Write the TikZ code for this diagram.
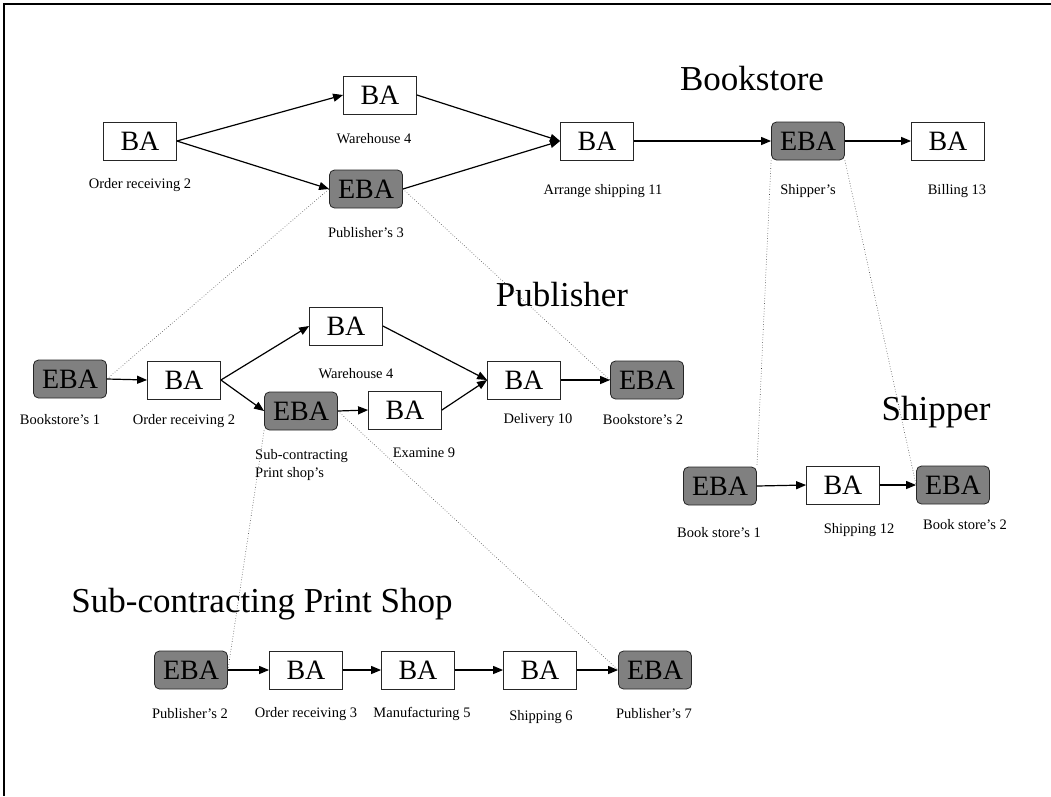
\documentclass[tikz,border=0pt]{standalone}
\usepackage{fontspec}
\setmainfont{Liberation Serif}
\usetikzlibrary{arrows.meta}
\definecolor{ebagray}{RGB}{128,128,128}
\tikzset{
  ba/.style={draw=black!85, line width=0.8pt, fill=white, minimum width=73pt, minimum height=38pt, inner sep=0pt, font=\fontsize{28}{30}\selectfont},
  eba/.style={ba, fill=ebagray, rounded corners=5pt},
  lab/.style={font=\fontsize{14.5}{18}\selectfont, inner sep=0pt},
  ttl/.style={font=\fontsize{35}{40}\selectfont, inner sep=0pt},
  flow/.style={line width=1.2pt, -{Triangle[length=10pt,width=8pt]}},
  link/.style={dotted, line width=0.6pt, black!75},
  frame/.style={line width=2pt}
}
\begin{document}
\begin{tikzpicture}[x=1pt,y=-1pt]
\useasboundingbox (0,0) rectangle (1051,796);
\coordinate (fr1) at (1051,4);
\coordinate (fr2) at (4,4);
\coordinate (fr3) at (4,796);
\draw[frame] (fr1) -- (fr2) -- (fr3);

% ---------- Bookstore ----------
\node[ttl, anchor=base] (tbook) at (752,90) {Bookstore};
\node[ba]  (b1)  at (140,141) {BA};
\node[ba]  (b2)  at (380,95)  {BA};
\node[eba] (b3)  at (366,189) {EBA};
\node[ba]  (b4)  at (597,141) {BA};
\node[eba] (b5)  at (808,141) {EBA};
\node[ba]  (b6)  at (948,141) {BA};
\node[lab] (lb1) at (140,185) {Order receiving 2};
\node[lab] (lb2) at (374,139) {Warehouse 4};
\node[lab] (lb3) at (366,233) {Publisher’s 3};
\node[lab] (lb4) at (603,191) {Arrange shipping 11};
\node[lab] (lb5) at (808,191) {Shipper’s};
\node[lab] (lb6) at (957,191) {Billing 13};
\draw[flow] (b1.east) -- (b2.west);
\draw[flow] (b1.east) -- (b3.west);
\draw[flow] (b2.east) -- (b4.west);
\draw[flow] (b3.east) -- (b4.west);
\draw[flow] (b4.east) -- (b5.west);
\draw[flow] (b5.east) -- (b6.west);

% ---------- Publisher ----------
\node[ttl, anchor=base] (tpub) at (562,306) {Publisher};
\node[eba] (p1) at (70,379)  {EBA};
\node[ba]  (p2) at (184,380) {BA};
\node[ba]  (p3) at (346,326) {BA};
\node[eba] (p4) at (301,411) {EBA};
\node[ba]  (p5) at (405,410) {BA};
\node[ba]  (p6) at (524,380) {BA};
\node[eba] (p7) at (647,380) {EBA};
\node[lab] (lp1) at (60,420)  {Bookstore’s 1};
\node[lab] (lp2) at (184,421) {Order receiving 2};
\node[lab] (lp3) at (356,374) {Warehouse 4};
\node[lab, anchor=north west, align=left] (lp4) at (255,449) {Sub-contracting\\Print shop’s};
\node[lab] (lp5) at (424,453) {Examine 9};
\node[lab] (lp6) at (538,420) {Delivery 10};
\node[lab] (lp7) at (643,420) {Bookstore’s 2};
\draw[flow] (p1.east) -- (p2.west);
\draw[flow] (p2.east) -- (p3.west);
\draw[flow] (p2.east) -- (p4.west);
\draw[flow] (p3.east) -- (p6.west);
\draw[flow] (p4.east) -- (p5.west);
\draw[flow] (p5.east) -- (p6.west);
\draw[flow] (p6.east) -- (p7.west);

% ---------- Shipper ----------
\node[ttl, anchor=base] (tship) at (936,420) {Shipper};
\node[eba] (s1) at (720,486) {EBA};
\node[ba]  (s2) at (843,485) {BA};
\node[eba] (s3) at (953,485) {EBA};
\node[lab] (ls1) at (719,533) {Book store’s 1};
\node[lab] (ls2) at (859,530) {Shipping 12};
\node[lab] (ls3) at (965,525) {Book store’s 2};
\draw[flow] (s1.east) -- (s2.west);
\draw[flow] (s2.east) -- (s3.west);

% ---------- Sub-contracting Print Shop ----------
\node[ttl, anchor=base] (tprint) at (262,612) {Sub-contracting Print Shop};
\node[eba] (c1) at (191,670) {EBA};
\node[ba]  (c2) at (306,670) {BA};
\node[ba]  (c3) at (418,670) {BA};
\node[ba]  (c4) at (540,670) {BA};
\node[eba] (c5) at (655,670) {EBA};
\node[lab] (lc1) at (190,714) {Publisher’s 2};
\node[lab] (lc2) at (306,714) {Order receiving 3};
\node[lab] (lc3) at (422,714) {Manufacturing 5};
\node[lab] (lc4) at (541,717) {Shipping 6};
\node[lab] (lc5) at (654,714) {Publisher’s 7};
\draw[flow] (c1.east) -- (c2.west);
\draw[flow] (c2.east) -- (c3.west);
\draw[flow] (c3.east) -- (c4.west);
\draw[flow] (c4.east) -- (c5.west);

% ---------- dotted correspondences ----------
\draw[link] (p1.east) -- (b3.west);
\draw[link] (b3.east) -- (p7.west);
\draw[link] (b5.south west) -- (s1.north east);
\draw[link] (b5.south east) -- (s3.west);
\draw[link] (p4.south west) -- (c1.east);
\draw[link] (p4.east) -- (c5.west);
\end{tikzpicture}
\end{document}
